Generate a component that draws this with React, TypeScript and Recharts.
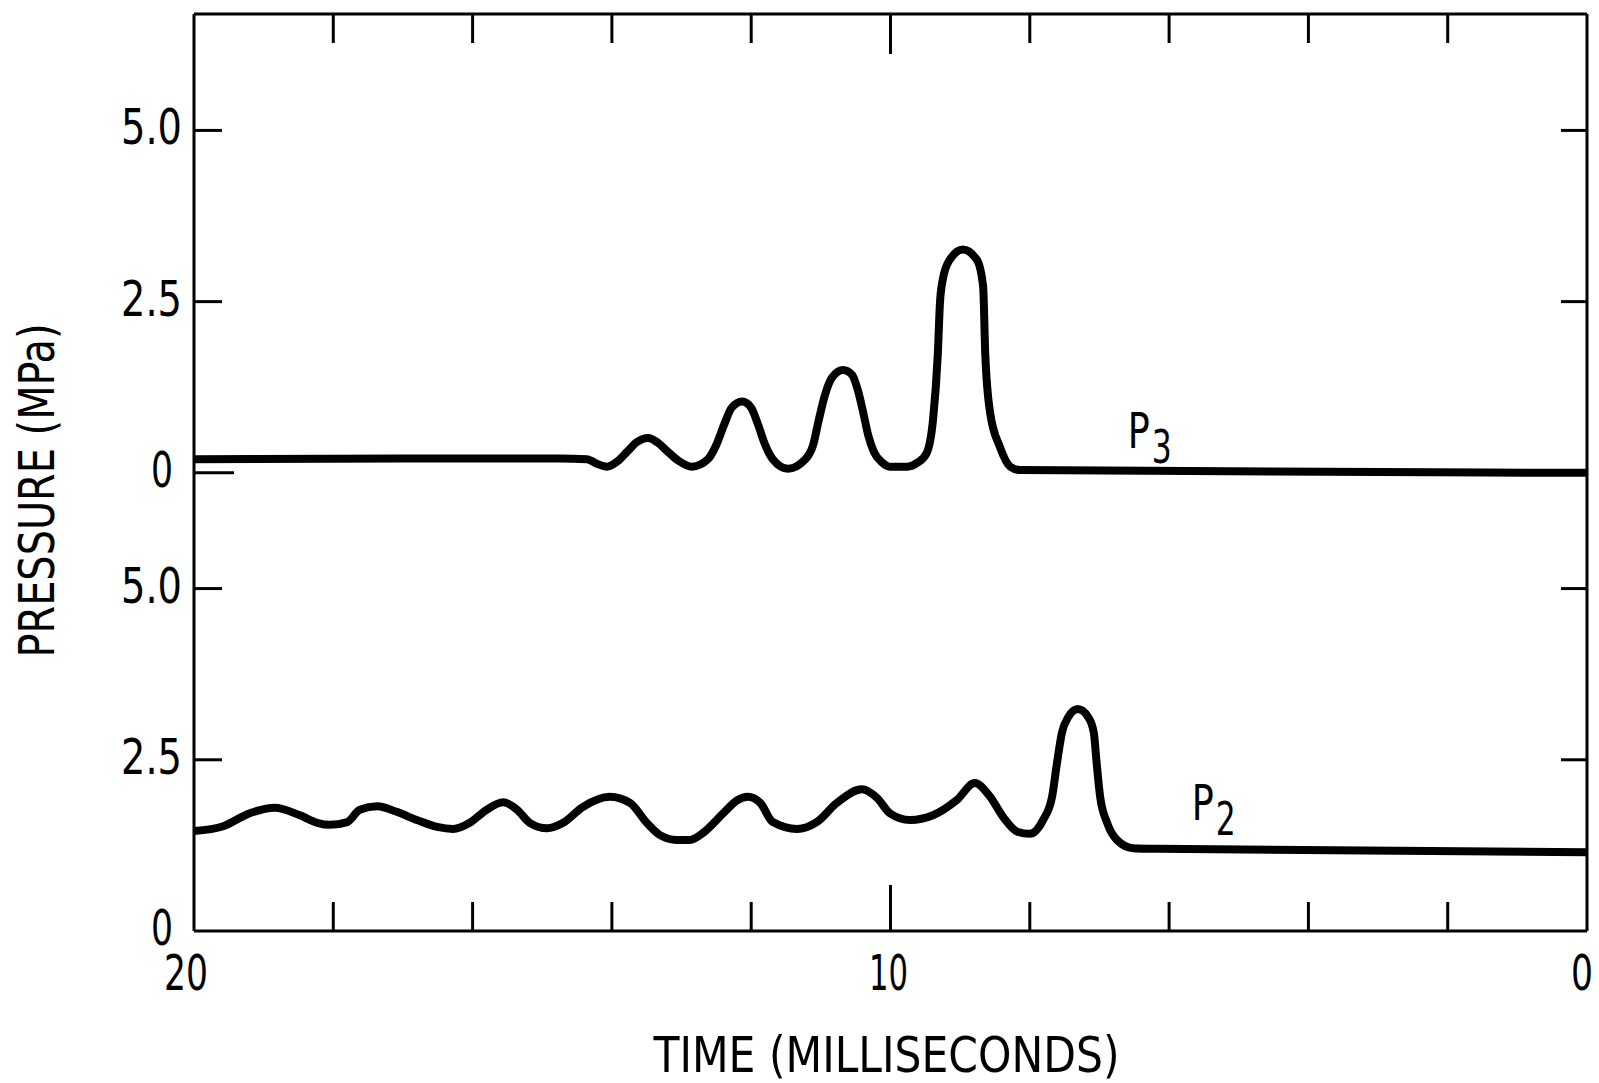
import React from "react";
import { LineChart, Line, XAxis, YAxis, ReferenceDot } from "recharts";

const FONT = '"DejaVu Sans Condensed", "DejaVu Sans", sans-serif';
const INK = "#000";

// time axis in ms, drawn from 20 (left) to 0 (right)
const timeTicks = [0, 2, 4, 6, 8, 10, 12, 14, 16, 18, 20];
const timeLabels = [0, 10, 20];

// upper trace P3 (MPa)
const p3Time = [
  20, 17, 14.75, 14.36, 14.21, 14.07, 13.93, 13.78, 13.64, 13.48, 13.34, 13.2, 13.05, 12.85,
  12.62, 12.5, 12.39, 12.28, 12.13, 12.0, 11.9, 11.8, 11.69, 11.47, 11.23, 11.11, 11.03, 10.94,
  10.84, 10.68, 10.55, 10.47, 10.4, 10.32, 10.24, 10.12, 10.01, 9.76, 9.61, 9.48, 9.39, 9.32,
  9.29, 9.25, 9.15, 8.96, 8.76, 8.67, 8.64, 8.57, 8.43, 8.28, 8.14, 0,
];
const p3Pressure = [
  0.2, 0.21, 0.21, 0.2, 0.13, 0.09, 0.16, 0.31, 0.45, 0.51, 0.44, 0.31, 0.18, 0.09,
  0.2, 0.41, 0.7, 0.95, 1.04, 0.95, 0.7, 0.41, 0.2, 0.06, 0.19, 0.41, 0.77, 1.14,
  1.39, 1.5, 1.43, 1.21, 0.92, 0.55, 0.31, 0.15, 0.09, 0.09, 0.15, 0.29, 0.77, 1.75,
  2.48, 2.82, 3.11, 3.26, 3.11, 2.72, 1.75, 0.88, 0.38, 0.09, 0.04, 0,
];

// lower trace P2 (MPa)
const p2Time = [
  20, 19.58, 19.2, 18.84, 18.48, 18.23, 18.05, 17.8, 17.62, 17.37, 17.09, 16.8, 16.51, 16.28,
  16.04, 15.8, 15.56, 15.36, 15.18, 14.93, 14.7, 14.42, 14.03, 13.74, 13.5, 13.31, 13.07, 12.88,
  12.67, 12.4, 12.2, 12.05, 11.87, 11.69, 11.34, 11.06, 10.77, 10.41, 10.19, 10.01, 9.72, 9.39,
  9.05, 8.79, 8.57, 8.38, 8.18, 8.0, 7.81, 7.68, 7.61, 7.54, 7.45, 7.31, 7.16, 7.08, 7.04, 6.99,
  6.89, 6.75, 6.52, 6.17, 0,
];
const p2Pressure = [
  1.46, 1.53, 1.72, 1.8, 1.69, 1.58, 1.55, 1.59, 1.77, 1.82, 1.74, 1.62, 1.52, 1.49,
  1.58, 1.77, 1.88, 1.77, 1.58, 1.5, 1.58, 1.81, 1.96, 1.87, 1.58, 1.4, 1.33, 1.33,
  1.45, 1.72, 1.91, 1.96, 1.87, 1.59, 1.49, 1.59, 1.87, 2.07, 1.94, 1.72, 1.62, 1.69,
  1.91, 2.16, 1.96, 1.66, 1.45, 1.42, 1.62, 1.96, 2.45, 2.89, 3.12, 3.24, 3.12, 2.89, 2.45, 1.96,
  1.58, 1.33, 1.21, 1.2, 1.15,
];

// each panel has its own 0 / 2.5 / 5.0 scale
const panelTicks = [0, 2.5, 5.0];
const panelTickLabels = ["0", "2.5", "5.0"];

// the upper panel's zero sits this far up the shared scale
const P3_OFFSET = 6.69;
const Y_MAX = 13.39;

const p2Data = p2Time.map((t, i) => ({ t, p: p2Pressure[i] }));
const p3Data = p3Time.map((t, i) => ({ t, p: p3Pressure[i] + P3_OFFSET }));

const leftTicks = [...panelTicks, ...panelTicks.map((v) => v + P3_OFFSET)];
const leftLabels = [...panelTickLabels, ...panelTickLabels];
const rightTicks = [2.5, 5.0, 2.5 + P3_OFFSET, 5.0 + P3_OFFSET];

// the scan uses a tall narrow typeface; squeeze glyphs to its widths
function numWidth(s: string) {
  let w = 0;
  for (const c of s) w += c === "." || c === "1" ? 17 : 22;
  return w;
}

function NumText({ x, y, s, anchor }: any) {
  return (
    <text
      x={x}
      y={y}
      textAnchor={anchor}
      fontFamily={FONT}
      fontSize={50}
      fill={INK}
      textLength={numWidth(s)}
      lengthAdjust="spacingAndGlyphs"
    >
      {s}
    </text>
  );
}

function LeftTick(props: any) {
  const { x, y, index } = props;
  const len = index === 0 ? 0 : index === 3 ? 40 : 28;
  const s = leftLabels[index];
  return (
    <g>
      {len > 0 && <line x1={x} y1={y} x2={x + len} y2={y} stroke={INK} strokeWidth={3} />}
      <NumText x={s === "0" ? x - 21 : x - 12} y={y + (index === 0 ? 14 : 14)} s={s} anchor="end" />
    </g>
  );
}

function RightTick(props: any) {
  const { x, y } = props;
  return <line x1={x} y1={y} x2={x - 26} y2={y} stroke={INK} strokeWidth={3} />;
}

function BottomTick(props: any) {
  const { x, y, payload } = props;
  const v = payload.value;
  const len = v === 0 || v === 20 ? 0 : v === 10 ? 46 : 29;
  const shift = v === 20 ? -8 : v === 0 ? -5 : -2;
  return (
    <g>
      {len > 0 && <line x1={x} y1={y} x2={x} y2={y - len} stroke={INK} strokeWidth={3} />}
      {timeLabels.includes(v) && <NumText x={x + shift} y={y + 59} s={String(v)} anchor="middle" />}
    </g>
  );
}

function TopTick(props: any) {
  const { x, y, payload } = props;
  const v = payload.value;
  const len = v === 0 || v === 20 ? 0 : v === 10 ? 40 : 29;
  if (!len) return <g />;
  return <line x1={x} y1={y} x2={x} y2={y + len} stroke={INK} strokeWidth={3} />;
}

function YTitle(props: any) {
  const { viewBox } = props;
  const cx = viewBox.x + 37;
  const cy = viewBox.y + viewBox.height / 2 + 18;
  return (
    <text
      x={cx}
      y={cy}
      transform={`rotate(-90, ${cx}, ${cy})`}
      textAnchor="middle"
      dominantBaseline="central"
      fontFamily={FONT}
      fontSize={50}
      textLength={334}
      lengthAdjust="spacingAndGlyphs"
      fill={INK}
    >
      PRESSURE (MPa)
    </text>
  );
}

function XTitle(props: any) {
  const { viewBox } = props;
  return (
    <text
      x={viewBox.x + viewBox.width / 2 - 4}
      y={viewBox.y + 141}
      textAnchor="middle"
      fontFamily={FONT}
      fontSize={50}
      textLength={466}
      lengthAdjust="spacingAndGlyphs"
      fill={INK}
    >
      TIME (MILLISECONDS)
    </text>
  );
}

function TraceName(props: any) {
  const { viewBox, sub } = props;
  return (
    <text x={viewBox.x} y={viewBox.y} fontFamily={FONT} fontSize={50} fill={INK}>
      <tspan textLength={22} lengthAdjust="spacingAndGlyphs">
        P
      </tspan>
      <tspan dx={2} dy={15} fontSize={46} textLength={20} lengthAdjust="spacingAndGlyphs">
        {sub}
      </tspan>
    </text>
  );
}

export default function App() {
  const axisLine = { stroke: INK, strokeWidth: 3 };
  return (
    <div style={{ position: "absolute", left: 0, top: 0, background: "#fff" }}>
      <LineChart width={1599} height={1083} margin={{ top: 0, right: 0, bottom: 0, left: 0 }}>
        <XAxis
          xAxisId="bottom"
          dataKey="t"
          type="number"
          domain={[0, 20]}
          reversed
          allowDataOverflow
          ticks={timeTicks}
          interval={0}
          height={152}
          tickSize={0}
          tickMargin={0}
          tickLine={false}
          axisLine={axisLine}
          tick={<BottomTick />}
          label={<XTitle />}
        />
        <XAxis
          xAxisId="top"
          orientation="top"
          dataKey="t"
          type="number"
          domain={[0, 20]}
          reversed
          allowDataOverflow
          ticks={timeTicks}
          interval={0}
          height={14}
          tickSize={0}
          tickMargin={0}
          tickLine={false}
          axisLine={axisLine}
          tick={<TopTick />}
        />
        <YAxis
          yAxisId="left"
          type="number"
          domain={[0, Y_MAX]}
          allowDataOverflow
          ticks={leftTicks}
          interval={0}
          width={194}
          tickSize={0}
          tickMargin={0}
          tickLine={false}
          axisLine={axisLine}
          tick={<LeftTick />}
          label={<YTitle />}
        />
        <YAxis
          yAxisId="right"
          orientation="right"
          type="number"
          domain={[0, Y_MAX]}
          allowDataOverflow
          ticks={rightTicks}
          interval={0}
          width={12}
          tickSize={0}
          tickMargin={0}
          tickLine={false}
          axisLine={axisLine}
          tick={<RightTick />}
        />
        <Line
          data={p3Data}
          dataKey="p"
          xAxisId="bottom"
          yAxisId="left"
          type="monotone"
          stroke={INK}
          strokeWidth={8}
          strokeLinejoin="round"
          dot={false}
          isAnimationActive={false}
        />
        <Line
          data={p2Data}
          dataKey="p"
          xAxisId="bottom"
          yAxisId="left"
          type="monotone"
          stroke={INK}
          strokeWidth={8}
          strokeLinejoin="round"
          dot={false}
          isAnimationActive={false}
        />
        <ReferenceDot
          xAxisId="bottom"
          yAxisId="left"
          x={6.58}
          y={0.35 + P3_OFFSET}
          r={1}
          fill="none"
          stroke="none"
          label={<TraceName sub="3" />}
        />
        <ReferenceDot
          xAxisId="bottom"
          yAxisId="left"
          x={5.66}
          y={1.61}
          r={1}
          fill="none"
          stroke="none"
          label={<TraceName sub="2" />}
        />
      </LineChart>
    </div>
  );
}
